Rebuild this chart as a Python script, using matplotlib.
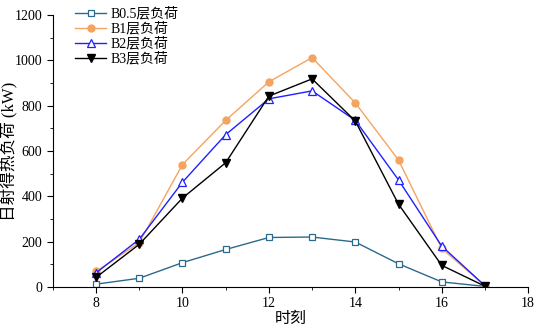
import matplotlib
matplotlib.use("Agg")
import matplotlib.pyplot as plt
from matplotlib.ticker import MultipleLocator

plt.rcParams['font.family'] = ['Liberation Serif', 'Noto Sans CJK SC']
plt.rcParams['axes.unicode_minus'] = False

hours = [8, 9, 10, 11, 12, 13, 14, 15, 16, 17]
b05 = [12, 38, 107, 165, 218, 220, 198, 102, 22, 2]
b1 = [68, 195, 540, 735, 905, 1012, 812, 560, 170, 5]
b2 = [62, 210, 462, 672, 830, 865, 735, 472, 180, 5]
b3 = [42, 188, 392, 548, 842, 918, 732, 365, 95, 3]

fig = plt.figure(figsize=(5.34, 3.26), dpi=100)
ax = fig.add_axes([0.099, 0.12, 0.89, 0.834])

ax.plot(hours, b05, color='#2b6a8c', marker='s', ms=4.5, mfc='white', mec='#2b6a8c', mew=0.9, lw=1, label='B0.5层负荷')
ax.plot(hours, b1, color='#f4a460', marker='o', ms=5, lw=1, label='B1层负荷')
ax.plot(hours, b2, color='#2020ff', marker='^', ms=6, mfc='white', mec='#2020ff', mew=0.9, lw=1, label='B2层负荷')
ax.plot(hours, b3, color='black', marker='v', ms=6, lw=1, label='B3层负荷')

ax.set_xlim(7, 18)
ax.set_ylim(0, 1200)
ax.xaxis.set_major_locator(MultipleLocator(2))
ax.xaxis.set_minor_locator(MultipleLocator(1))
ax.yaxis.set_major_locator(MultipleLocator(200))
ax.yaxis.set_minor_locator(MultipleLocator(100))
ax.tick_params(which='both', direction='out', labelsize=10)
ax.tick_params(which='major', length=4)
ax.tick_params(which='minor', length=2.5)
ax.spines['top'].set_visible(False)
ax.spines['right'].set_visible(False)

ax.set_xlabel('时刻', fontsize=11.5)
ax.set_ylabel('日射得热负荷 (kW)', fontsize=12)
ax.yaxis.set_label_coords(-0.074, 0.5)
ax.xaxis.set_label_coords(0.5, -0.09)

ax.legend(loc='upper left', bbox_to_anchor=(0.03, 1.06), frameon=False, fontsize=10,
          handlelength=2.2, labelspacing=0.1, borderaxespad=0.2, handletextpad=0.3)

fig.savefig('out.png', dpi=100)
